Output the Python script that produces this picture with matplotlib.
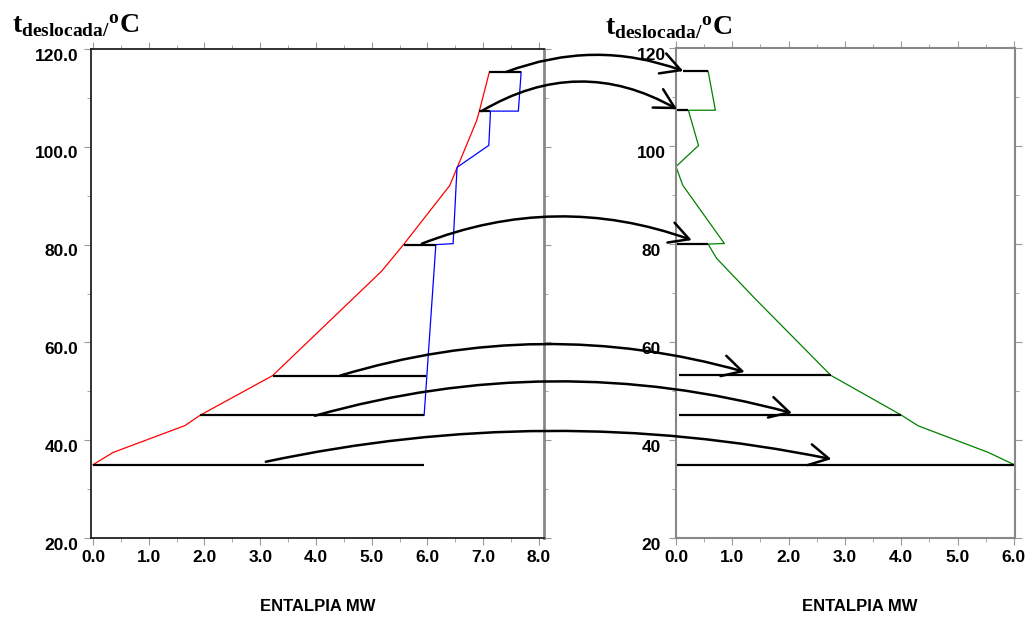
import numpy as np
import matplotlib
matplotlib.use('Agg')
import matplotlib.pyplot as plt
from matplotlib.patches import ConnectionPatch
import matplotlib.transforms as mtransforms

plt.rcParams['font.family'] = ['Liberation Sans', 'DejaVu Sans']
plt.rcParams['font.weight'] = 'bold'
plt.rcParams['mathtext.fontset'] = 'custom'
plt.rcParams['mathtext.rm'] = 'Liberation Serif'
plt.rcParams['mathtext.bf'] = 'Liberation Serif:bold'

# shifted temperature levels (same on both sides)
levels = [115.3, 107.3, 80.0, 53.2, 45.1, 35.0]

# left: composite curves
red_x = [0.0, 0.36, 1.65, 1.92, 3.22, 5.18, 5.57, 6.40, 6.88, 6.93, 7.11]
red_y = [35.0, 37.5, 43.0, 45.1, 53.2, 74.6, 80.0, 92.1, 105.3, 107.3, 115.3]
blue_x = [5.94, 6.15, 6.46, 6.53, 7.10, 7.13, 7.63, 7.68]
blue_y = [45.1, 80.0, 80.2, 95.8, 100.3, 107.3, 107.3, 115.3]
left_start = [7.11, 6.93, 5.57, 3.22, 1.92, 0.0]
left_end = [7.68, 7.13, 6.15, 5.97, 5.94, 5.94]

# right: grand composite curve
green_x = [0.57, 0.70, 0.22, 0.40, 0.0, 0.12, 0.86, 0.57, 0.72, 1.40, 2.75, 4.00, 4.30, 5.54, 6.00]
green_y = [115.3, 107.3, 107.3, 100.1, 95.8, 92.0, 80.1, 80.0, 77.1, 68.9, 53.2, 45.1, 42.9, 37.5, 35.0]
right_start = [0.12, 0.0, 0.0, 0.05, 0.05, 0.0]
right_end = [0.57, 0.22, 0.57, 2.75, 4.00, 6.00]

# arrows from left chart to right chart
arrow_start_x = [7.41, 6.97, 5.90, 4.43, 3.98, 3.10]
arrow_start_y = [115.3, 107.3, 80.2, 53.2, 45.0, 35.6]
arrow_end_x = [0.13, 0.02, 0.28, 1.22, 2.06, 2.76]
arrow_end_y = [115.3, 107.5, 80.8, 53.9, 45.5, 36.1]
arrow_rad = [-0.186, -0.29, -0.187, -0.146, -0.138, -0.104]

left_xticks = np.arange(0, 9, 1.0)
right_xticks = np.arange(0, 7, 1.0)
yticks = np.arange(20, 121, 20)

fig = plt.figure(figsize=(10.27, 6.18), dpi=100)
ax1 = fig.add_axes([0.0886, 0.1294, 0.4411, 0.7913])
ax2 = fig.add_axes([0.6582, 0.1294, 0.3301, 0.7929])

ax1.plot(red_x, red_y, color='red', lw=0.9)
ax1.plot(blue_x, blue_y, color='blue', lw=0.9)
ax1.hlines(levels, left_start, left_end, color='black', lw=1.6)
ax2.plot(green_x, green_y, color='green', lw=0.9)
ax2.hlines(levels, right_start, right_end, color='black', lw=1.6)

ax1.set_xlim(-0.036, 8.09)
ax2.set_xlim(0, 6.02)
for ax in (ax1, ax2):
    ax.set_ylim(20, 120)
    ax.set_yticks(yticks)
    ax.set_yticks(np.arange(30, 120, 20), minor=True)
    ax.tick_params(which='both', direction='out', color='#999999', top=True, right=True,
                   labelsize=12.5, labelcolor='black')
    ax.tick_params(which='major', length=5)
    ax.tick_params(which='minor', length=3)
    ax.set_xlabel('ENTALPIA MW', fontsize=12, fontweight='bold')

ax1.set_xticks(left_xticks)
ax1.set_xticks(left_xticks[:-1] + 0.5, minor=True)
ax2.set_xticks(right_xticks)
ax2.set_xticks(right_xticks[:-1] + 0.5, minor=True)
ax1.set_xticklabels(['%.1f' % v for v in left_xticks])
ax2.set_xticklabels(['%.1f' % v for v in right_xticks])
ax1.set_yticklabels(['%.1f' % v for v in yticks])
ax2.set_yticklabels(['%d' % v for v in yticks])
ax1.tick_params(axis='y', pad=4)
ax2.tick_params(axis='y', pad=13)
for lab in ax2.get_yticklabels():
    lab.set_horizontalalignment('center')

off = mtransforms.ScaledTranslation(0, -4 / 72, fig.dpi_scale_trans)
for ax in (ax1, ax2):
    for lab in ax.get_yticklabels():
        lab.set_transform(lab.get_transform() + off)

ax1.xaxis.set_label_coords(0.5, -0.124)
ax2.xaxis.set_label_coords(0.543, -0.124)

for s in ('left', 'bottom', 'top'):
    ax1.spines[s].set_color('#222222')
    ax1.spines[s].set_linewidth(1.3)
ax1.spines['right'].set_color('#888888')
ax1.spines['right'].set_linewidth(2)
for s in ax2.spines.values():
    s.set_color('#888888')
    s.set_linewidth(1.5)

for i in range(len(arrow_rad)):
    con = ConnectionPatch(xyA=(arrow_start_x[i], arrow_start_y[i]), coordsA=ax1.transData,
                          xyB=(arrow_end_x[i], arrow_end_y[i]), coordsB=ax2.transData,
                          arrowstyle='->,head_length=0.7,head_width=0.38',
                          connectionstyle='arc3,rad=%f' % arrow_rad[i],
                          color='black', lw=1.8, mutation_scale=20, clip_on=False)
    fig.add_artist(con)

title = r'$\mathbf{t_{deslocada/}{}^{o}C}$'
fig.text(12 / 1027, 1 - 33 / 618, title, fontsize=20, ha='left', va='baseline')
fig.text(605 / 1027, 1 - 35 / 618, title, fontsize=20, ha='left', va='baseline')

fig.savefig('out.png', dpi=100)
